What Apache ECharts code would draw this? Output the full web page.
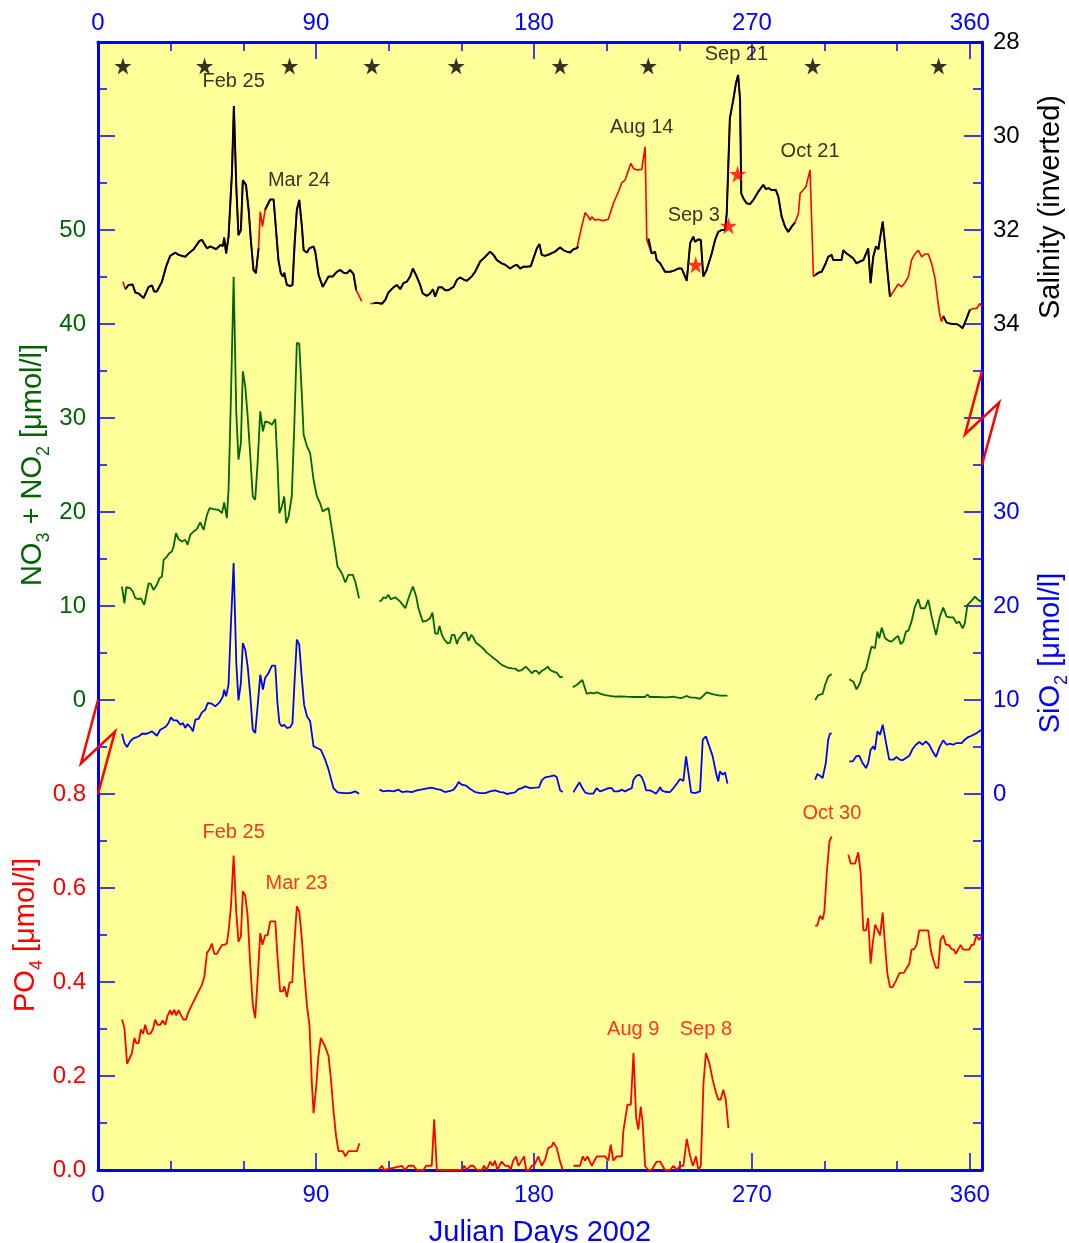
<!DOCTYPE html>
<html><head><meta charset="utf-8">
<script src="https://cdn.jsdelivr.net/npm/echarts@6/dist/echarts.min.js"></script>
<style>html,body{margin:0;padding:0;background:#fff}#c{width:1069px;height:1243px}</style>
</head><body><div id="c"></div>
<script>
// ---------------- DATA ----------------
const dayTicks = [0, 90, 180, 270, 360];
const dayMinorTicks = [30, 60, 120, 150, 210, 240, 300, 330];
const no3Labels = [0, 10, 20, 30, 40, 50];
const po4Labels = [0, 0.2, 0.4, 0.6, 0.8];
const sio2Labels = [0, 10, 20, 30];
const salLabels = [28, 30, 32, 34];

// Salinity (inverted axis), [julian day, salinity]
const salinity = [
[10.3,33.10],[11.3,33.26],[12.6,33.17],[14.3,33.16],[15.4,33.33],[16.8,33.35],[18.8,33.45],[20.9,33.21],[22.3,33.18],[23.2,33.31],[24.3,33.31],[26.4,33.10],[28.1,32.78],[29.8,32.55],[31.9,32.48],[33.3,32.53],[36.0,32.57],[37.4,32.50],[39.5,32.41],[41.9,32.23],[42.9,32.21],[45.0,32.39],[46.4,32.35],[48.8,32.41],[50.5,32.32],[51.6,32.34],[52.1,32.16],[52.9,32.50],[53.9,32.14],[55.3,30.79],[56.1,29.36],[57.1,31.08],[58.0,32.11],[59.0,32.0],[59.8,30.94],[61.1,31.04],[62.2,31.57],[63.1,32.21],[64.2,32.85],[65.2,32.92],[66.3,32.39],[67.0,31.61],[67.9,31.93],[69.0,31.57],[71.1,31.35],[72.5,31.35],[73.2,31.36],[74.5,32.64],[75.5,32.92],[76.3,32.99],[76.9,32.91],[78.0,33.17],[79.4,33.19],[80.3,33.17],[81.2,32.28],[82.1,31.57],[83.1,31.36],[84.2,31.93],[84.9,32.43],[86.3,32.48],[87.3,32.39],[89.0,32.35],[89.7,32.46],[91.1,32.96],[92.8,33.21],[95.2,32.99],[96.9,32.99],[98.6,32.89],[100.0,32.85],[101.4,32.91],[102.8,32.92],[104.1,32.85],[105.5,32.94],[106.6,33.28],[108.9,33.52],[110.5,null],[112.4,33.57],[113.8,33.56],[115.1,33.55],[117.2,33.57],[118.6,33.49],[119.9,33.33],[122.0,33.22],[123.4,33.17],[124.8,33.26],[126.1,33.13],[127.5,33.10],[128.9,32.99],[130.0,32.82],[131.6,32.99],[133.0,33.17],[134.1,33.35],[135.8,33.40],[137.1,33.35],[138.3,33.26],[139.2,33.42],[140.6,33.22],[142.0,33.22],[143.3,33.28],[144.7,33.28],[146.8,33.21],[148.2,33.06],[149.5,33.01],[151.2,33.06],[152.3,33.08],[154.3,32.99],[155.7,32.89],[157.8,32.67],[159.9,32.57],[161.9,32.46],[163.3,32.53],[164.7,32.64],[166.7,32.71],[168.1,32.74],[170.2,32.82],[171.5,32.77],[172.9,32.74],[174.3,32.82],[175.7,32.78],[177.0,32.78],[178.7,32.77],[179.8,32.60],[181.2,32.39],[182.3,32.30],[183.2,32.53],[184.6,32.55],[186.7,32.51],[188.7,32.46],[190.8,32.37],[192.2,32.43],[193.5,32.46],[194.9,32.48],[196.3,32.41],[197.7,32.39],[198.4,32.35],[199.7,31.93],[201.1,31.63],[202.5,31.72],[203.2,31.79],[203.9,31.72],[205.2,31.79],[206.6,31.77],[208.0,31.80],[209.3,31.79],[210.7,31.77],[212.8,31.43],[214.9,31.18],[216.3,30.99],[217.6,30.94],[218.6,30.79],[220.0,30.58],[221.1,30.69],[222.4,30.72],[224.5,30.71],[225.9,30.23],[226.6,32.21],[227.3,32.18],[228.6,32.50],[230.0,32.46],[230.7,32.64],[232.1,32.71],[234.1,32.89],[236.2,32.89],[237.6,32.87],[239.6,32.82],[241.0,32.82],[242.4,32.99],[243.1,33.08],[244.5,32.28],[245.8,32.14],[246.5,32.25],[247.9,32.20],[248.9,32.21],[249.9,32.99],[251.3,32.85],[253.4,32.50],[254.8,32.21],[256.1,32.04],[257.5,32.0],[258.9,32.0],[259.6,31.65],[260.9,29.62],[262.3,29.23],[263.4,28.88],[264.3,28.70],[265.1,29.23],[265.6,31.22],[266.5,31.33],[267.8,31.43],[269.2,31.45],[270.6,31.36],[272.7,31.18],[274.7,31.04],[275.8,31.13],[276.8,31.11],[278.2,31.15],[279.9,31.15],[280.9,31.29],[282.3,31.72],[283.7,31.93],[285.0,32.04],[286.4,31.93],[287.8,31.84],[289.2,31.65],[289.9,31.22],[291.2,31.15],[292.3,31.08],[294.0,30.72],[295.4,32.99],[296.1,32.96],[297.4,32.91],[298.8,32.89],[300.2,32.74],[301.5,32.57],[302.9,32.53],[303.6,32.64],[305.0,32.64],[307.0,32.64],[307.7,32.43],[309.1,32.50],[310.5,32.55],[311.8,32.60],[313.2,32.71],[314.6,32.67],[316.0,32.64],[317.3,32.48],[318.0,32.39],[319.0,33.13],[320.1,32.57],[321.2,32.35],[322.2,32.41],[322.9,32.43],[324.0,31.82],[324.9,32.28],[325.9,32.85],[327.0,33.42],[328.4,33.31],[330.4,33.15],[331.8,33.21],[333.2,33.12],[334.6,32.99],[335.9,32.64],[337.3,32.51],[338.7,32.43],[340.1,32.57],[341.5,32.51],[342.8,32.51],[344.2,32.71],[345.6,33.03],[346.9,33.56],[347.6,33.81],[348.3,33.95],[349.0,33.83],[350.4,33.97],[352.5,34.0],[354.5,34.0],[355.9,34.04],[357.0,34.09],[358.4,33.91],[360.0,33.70],[361.4,33.67],[362.8,33.67],[364.1,33.56],[364.8,33.62]
];
// day ranges where only the red salinity record exists (black record absent)
const salBlackGaps = [[0,11],[66.3,69.0],[106.6,113.8],[198.4,227.3],[287.8,296.1],[327.0,349.0],[360.0,366]];
const salStarsBlack = [[10.3,28.51],[44,28.51],[79.1,28.51],[113.1,28.51],[147.9,28.51],[190.8,28.51],[227.2,28.51],[295.1,28.51],[347.1,28.51]];
const salStarsRed = [[246.8,32.74],[260.3,31.91],[264.1,30.81]];
const salNotes = [['Feb 25',56,28.85],['Mar 24',83,30.94],['Aug 14',224.5,29.81],['Sep 3',246,31.70],['Sep 21',263.6,28.26],['Oct 21',294,30.32]];

// NO3 + NO2 [umol/l]
const no3 = [
[9.9,12.07],[10.9,10.29],[11.7,12.0],[13.3,11.89],[14.4,11.54],[15.4,10.83],[16.8,10.72],[17.7,10.83],[19.1,10.12],[20.9,12.42],[21.8,12.35],[22.9,11.71],[24.3,12.25],[25.4,12.96],[26.4,13.13],[27.1,14.91],[28.5,15.26],[29.4,15.62],[30.5,15.80],[31.2,16.33],[32.2,17.75],[33.3,17.11],[34.7,16.86],[36.0,17.04],[37.0,16.51],[38.1,17.57],[39.5,17.93],[40.8,18.18],[42.2,18.89],[43.6,18.10],[45.0,19.70],[46.1,20.41],[47.7,20.31],[49.8,20.23],[51.2,19.88],[52.1,21.02],[53.2,19.35],[53.9,22.36],[54.9,32.30],[56.0,45.0],[57.1,30.53],[58.0,25.56],[59.0,27.33],[59.8,34.97],[60.8,33.37],[61.8,30.17],[62.9,25.91],[63.9,21.65],[64.9,21.30],[65.9,25.20],[67.0,30.71],[68.1,28.58],[69.0,29.64],[70.4,29.54],[71.8,29.29],[72.5,29.29],[73.2,29.89],[74.1,25.20],[74.9,19.88],[75.9,20.59],[76.9,21.65],[77.7,18.81],[78.7,19.52],[80.0,21.65],[81.0,28.75],[82.1,37.98],[83.1,37.91],[84.2,32.30],[84.9,28.22],[86.3,26.98],[87.6,26.27],[89.0,23.43],[90.4,21.65],[91.7,20.94],[92.8,20.06],[93.8,20.23],[95.2,20.41],[96.6,18.10],[97.9,15.97],[98.9,14.20],[99.7,14.38],[100.7,13.49],[102.1,12.50],[103.4,13.31],[105.2,13.31],[106.2,12.60],[107.8,10.83],
[112,null],
[116.2,10.47],[117.2,10.65],[117.9,10.93],[118.8,10.83],[119.9,11.18],[120.9,10.72],[122.7,10.93],[124.8,10.47],[126.9,9.76],[128.2,10.83],[130.0,12.07],[131.4,11.0],[132.3,9.76],[134.1,8.34],[135.8,8.45],[137.1,8.70],[138.1,9.30],[139.2,7.10],[140.2,7.03],[141.0,7.88],[142.0,6.92],[142.9,6.46],[144.3,6.03],[145.4,6.11],[146.1,6.92],[147.2,6.92],[148.2,5.96],[148.9,6.46],[149.5,6.57],[150.9,7.17],[152.0,7.17],[153.0,6.28],[154.1,6.92],[155.0,6.67],[156.0,6.11],[157.8,5.75],[159.2,5.43],[160.5,5.04],[162.6,4.61],[164.7,4.19],[166.7,3.73],[168.8,3.48],[170.9,3.37],[172.2,3.34],[173.6,3.09],[175.0,3.19],[176.6,3.55],[178.0,3.19],[179.1,2.84],[180.1,3.09],[181.2,3.09],[182.1,2.77],[183.2,3.09],[184.6,3.30],[185.7,3.55],[186.7,3.19],[188.0,3.02],[189.4,2.91],[190.8,2.41],[191.9,2.48],
[194,null],
[196.0,1.35],[197.7,1.60],[200.0,2.13],[201.8,0.64],[203.2,0.78],[204.5,0.71],[205.9,0.82],[207.3,0.67],[209.3,0.53],[211.4,0.43],[213.5,0.35],[215.6,0.39],[218.3,0.35],[221.1,0.32],[225.9,0.32],[226.8,0.57],[227.9,0.32],[230.7,0.32],[234.8,0.28],[237.6,0.35],[238.9,0.28],[239.6,0.43],[241.0,0.21],[243.1,0.43],[244.5,0.28],[246.5,0.25],[248.6,0.11],[251.3,0.82],[254.1,0.60],[256.8,0.46],[259.9,0.46],
[278,null],
[296.1,0.0],[297.4,0.53],[298.1,0.36],[299.2,0.64],[300.2,1.60],[301.5,2.48],[302.9,2.77],
[306,null],
[310.2,2.20],[311.9,1.95],[313.2,1.14],[314.6,1.78],[315.7,2.84],[317.1,3.27],[318.5,4.79],[319.4,5.68],[320.8,5.50],[321.8,7.28],[322.6,6.57],[323.6,7.70],[325.0,6.57],[326.3,6.32],[327.7,6.21],[329.1,6.57],[330.4,6.82],[331.4,5.96],[332.5,6.21],[333.6,7.28],[334.6,7.38],[335.9,8.34],[337.3,9.94],[338.7,10.72],[339.7,9.76],[341.5,9.76],[342.8,10.65],[344.2,8.87],[346.0,6.92],[347.6,8.87],[349.0,9.83],[350.4,8.87],[351.8,8.80],[353.1,8.80],[354.5,8.16],[355.6,8.34],[357.0,7.63],[357.9,8.16],[359.0,10.12],[360.7,10.58],[362.1,11.0],[363.4,10.65],[364.8,10.47]
];

// SiO2 [umol/l]
const sio2 = [
[9.9,6.41],[10.9,5.42],[12.0,5.0],[13.3,5.60],[14.7,5.95],[16.1,6.06],[17.2,6.20],[18.1,6.41],[20.2,6.41],[22.3,6.66],[24.3,6.20],[25.7,6.84],[27.8,7.12],[29.1,7.55],[30.1,8.15],[31.2,7.83],[32.6,7.83],[34.0,7.37],[35.1,7.55],[36.0,7.02],[37.0,7.44],[38.4,7.02],[39.2,6.66],[40.2,7.90],[41.5,7.98],[42.9,8.68],[44.3,8.97],[45.3,9.68],[47.0,9.61],[48.4,9.32],[50.2,9.75],[51.6,10.39],[52.1,11.10],[52.9,10.39],[53.9,11.63],[54.9,18.19],[56.0,24.57],[57.1,13.93],[58.0,9.96],[59.0,11.80],[59.8,16.06],[60.8,15.35],[61.8,13.58],[62.9,10.39],[63.9,6.84],[64.9,6.48],[65.9,9.32],[67.0,12.69],[68.1,11.10],[69.0,12.34],[70.4,12.87],[71.8,13.65],[73.2,13.65],[74.1,9.68],[74.9,7.55],[75.9,7.20],[76.9,7.37],[78.0,7.02],[79.4,7.12],[80.3,7.55],[81.2,12.16],[82.1,16.42],[83.1,15.88],[84.2,12.16],[85.1,9.50],[86.3,8.26],[87.6,7.73],[89.0,5.07],[90.4,4.89],[92.0,4.71],[93.8,3.65],[95.2,2.59],[97.2,0.63],[98.9,0.17],[101.4,0.10],[102.1,0.03],[104.1,0.10],[106.2,0.28],[107.8,0.03],
[112,null],
[116.2,0.46],[117.9,0.28],[119.9,0.35],[122.0,0.28],[124.1,0.46],[125.5,0.21],[127.5,0.28],[129.6,0.21],[131.6,0.39],[134.4,0.53],[136.5,0.63],[137.8,0.67],[139.9,0.53],[141.3,0.46],[143.3,0.21],[145.4,0.32],[146.8,0.46],[147.9,0.81],[148.9,1.27],[150.2,0.99],[152.0,0.88],[153.7,0.53],[155.7,0.21],[157.8,0.10],[159.9,0.10],[161.9,0.28],[163.9,0.39],[164.7,0.46],[166.1,0.21],[167.4,0.17],[168.8,0.0],[170.5,0.10],[172.2,0.17],[173.6,0.53],[175.0,0.63],[176.4,0.81],[178.4,0.63],[180.5,0.67],[182.1,0.71],[183.2,1.45],[184.6,1.77],[186.7,1.88],[188.3,1.98],[189.4,1.80],[190.8,0.39],[191.9,0.21],
[194,null],
[196.3,0.17],[197.7,0.81],[198.8,1.24],[200.0,0.63],[201.1,0.17],[202.5,0.03],[204.5,0.03],[205.9,0.63],[207.3,0.28],[208.0,0.17],[209.3,0.46],[210.7,0.63],[212.1,0.63],[213.1,0.28],[214.9,0.28],[216.3,0.46],[217.6,0.28],[219.0,0.46],[220.4,0.63],[221.1,1.52],[222.4,1.95],[223.5,2.05],[224.5,1.80],[225.5,1.17],[226.3,0.39],[227.9,0.39],[229.3,0.21],[230.4,0.03],[231.4,0.39],[232.1,0.74],[232.8,0.39],[234.1,0.24],[236.2,0.21],[237.6,0.63],[239.2,1.17],[240.3,1.59],[241.7,1.40],[242.8,4.0],[243.8,2.23],[244.9,0.17],[246.5,0.10],[248.6,0.28],[249.7,5.78],[251.0,6.13],[252.4,5.07],[253.8,4.00],[255.2,2.23],[256.1,1.34],[256.8,2.41],[257.9,2.06],[258.9,2.30],[259.9,1.10],
[278,null],
[296.1,1.52],[297.0,2.13],[298.1,1.95],[299.2,1.70],[300.5,3.29],[301.5,5.78],[302.2,6.41],[302.9,6.48],
[306,null],
[310.2,3.47],[311.6,3.47],[313.0,4.0],[314.3,4.07],[315.7,3.29],[317.1,2.76],[318.0,3.29],[319.0,4.71],[320.1,5.07],[320.8,4.71],[321.8,6.66],[322.9,6.31],[324.0,7.37],[324.9,6.13],[325.9,4.71],[326.7,3.65],[328.4,3.65],[329.7,3.93],[331.1,3.65],[332.2,3.58],[333.6,3.83],[335.0,4.07],[336.3,4.78],[337.7,5.24],[339.1,5.53],[340.5,5.24],[341.8,5.60],[343.2,5.24],[344.6,4.54],[346.0,3.93],[347.6,5.07],[349.0,5.71],[350.4,5.24],[351.8,5.35],[353.1,5.24],[354.5,5.42],[356.6,5.42],[357.9,5.78],[359.3,6.06],[360.7,6.20],[362.8,6.48],[364.8,6.84]
];

// PO4 [umol/l]
const po4 = [
[9.9,0.320],[10.9,0.302],[12.0,0.226],[13.1,0.238],[14.0,0.249],[15.0,0.281],[15.8,0.270],[16.8,0.270],[17.7,0.299],[18.6,0.290],[19.5,0.309],[20.5,0.290],[21.6,0.290],[22.7,0.300],[23.6,0.320],[24.6,0.309],[25.7,0.309],[26.7,0.318],[27.8,0.309],[28.7,0.328],[29.8,0.340],[30.5,0.330],[31.5,0.341],[32.3,0.329],[33.3,0.340],[34.2,0.330],[35.3,0.320],[36.3,0.320],[37.4,0.337],[38.8,0.352],[40.2,0.366],[41.5,0.380],[42.9,0.394],[43.9,0.411],[45.0,0.462],[46.1,0.470],[47.0,0.482],[48.0,0.460],[49.1,0.460],[50.2,0.470],[51.2,0.479],[52.1,0.479],[53.2,0.482],[53.9,0.508],[54.9,0.561],[56.0,0.669],[57.1,0.547],[58.0,0.486],[59.0,0.497],[59.8,0.593],[60.8,0.584],[61.8,0.540],[62.9,0.433],[63.9,0.352],[64.9,0.323],[65.9,0.405],[67.0,0.504],[67.9,0.479],[69.0,0.499],[70.0,0.499],[71.1,0.529],[72.2,0.529],[73.2,0.529],[74.1,0.455],[75.2,0.380],[76.3,0.380],[76.9,0.391],[78.0,0.368],[79.1,0.399],[80.2,0.399],[81.0,0.476],[82.1,0.561],[83.1,0.550],[84.2,0.490],[85.1,0.423],[86.3,0.348],[87.3,0.309],[88.3,0.185],[89.0,0.121],[90.1,0.178],[91.0,0.242],[92.0,0.281],[93.1,0.270],[94.2,0.257],[95.2,0.242],[96.2,0.192],[97.2,0.128],[98.3,0.072],[99.3,0.040],[101.1,0.040],[102.1,0.029],[103.4,0.040],[105.2,0.040],[106.9,0.040],[107.9,0.057],
[112,null],
[115.8,0.0],[117.2,0.009],[118.2,0.0],[125.5,0.009],[126.8,0.0],[128.2,0.009],[130.3,0.009],[131.6,0.0],[134.4,0.0],[135.5,0.009],[137.8,0.009],[138.8,0.108],[139.9,0.0],[150.2,0.0],[151.2,0.009],[152.3,0.0],[153.7,0.009],[155.0,0.009],[156.4,0.0],[158.5,0.0],[159.4,0.009],[160.5,0.0],[161.9,0.018],[163.0,0.009],[163.9,0.020],[164.9,0.0],[165.7,0.009],[166.7,0.018],[168.1,0.009],[169.5,0.009],[170.4,0.0],[171.3,0.018],[172.6,0.029],[173.6,0.009],[174.9,0.020],[175.9,0.029],[176.8,0.0],[178.1,0.0],[179.1,0.009],[180.2,0.011],[181.8,0.029],[183.2,0.009],[184.6,0.022],[185.9,0.047],[187.3,0.050],[188.0,0.059],[189.4,0.047],[190.8,0.018],[191.9,0.0],
[194,null],
[196.3,0.009],[199.0,0.009],[200.2,0.029],[201.1,0.020],[202.1,0.029],[203.9,0.009],[205.9,0.029],[209.4,0.029],[210.7,0.020],[211.7,0.054],[212.8,0.020],[214.2,0.029],[216.3,0.029],[216.9,0.082],[218.6,0.139],[220.0,0.139],[221.1,0.249],[222.2,0.111],[223.1,0.086],[224.1,0.135],[224.9,0.100],[225.9,0.008],[227.3,0.0],[228.6,0.0],[230.7,0.018],[232.1,0.018],[234.1,0.0],[236.2,0.0],[237.6,0.009],[239.0,0.0],[240.3,0.009],[241.7,0.009],[243.1,0.066],[244.5,0.029],[245.6,0.009],[246.9,0.029],[247.9,0.0],[248.9,0.009],[250.0,0.185],[251.0,0.249],[252.4,0.228],[253.8,0.192],[255.2,0.164],[256.1,0.150],[257.1,0.150],[258.2,0.171],[259.2,0.150],[260.3,0.089],
[278,null],
[296.1,0.520],[297.0,0.520],[298.1,0.541],[299.2,0.533],[299.9,0.550],[300.9,0.632],[302.0,0.699],[302.9,0.710],
[306,null],
[309.8,0.671],[310.8,0.652],[312.6,0.652],[313.9,0.676],[314.9,0.632],[316.0,0.510],[317.1,0.510],[318.0,0.536],[319.0,0.439],[319.8,0.479],[320.9,0.522],[321.9,0.511],[322.9,0.499],[324.0,0.548],[324.9,0.483],[325.9,0.419],[327.0,0.389],[328.1,0.389],[329.5,0.403],[330.9,0.419],[332.8,0.420],[333.9,0.430],[335.0,0.439],[335.9,0.469],[337.0,0.470],[338.0,0.479],[339.1,0.510],[342.8,0.510],[343.8,0.469],[344.9,0.447],[346.0,0.430],[346.9,0.430],[347.9,0.490],[349.0,0.499],[350.1,0.479],[351.2,0.479],[352.4,0.470],[353.4,0.469],[354.2,0.460],[355.2,0.470],[356.2,0.479],[357.2,0.469],[359.7,0.469],[360.7,0.479],[361.6,0.479],[362.7,0.499],[363.8,0.490],[364.8,0.497]
];
const po4Notes = [['Feb 25',56,0.718],['Mar 23',82,0.609],['Aug 9',221,0.298],['Sep 8',251,0.298],['Oct 30',303,0.758]];

// ---------------- CHART ----------------
const FONT = '"Liberation Sans", Arial, Helvetica, sans-serif';
const BLUE = '#0000ff', GREEN = '#006400', RED = '#ff0000', BLACK = '#000000';
const STAR = 'path://M50,0 L61.2,34.5 L97.6,34.5 L68.2,55.9 L79.4,90.5 L50,69.1 L20.6,90.5 L31.8,55.9 L2.4,34.5 L38.8,34.5 Z';

const inGap = d => salBlackGaps.some(g => d > g[0] && d < g[1]);
const salBlack = salinity.map(p => [p[0], (p[1] === null || inGap(p[0])) ? null : p[1]]);
const isIn = (arr, v) => arr.some(a => Math.abs(a - v) < 1e-9);

function xAx(pos, major) {
  const o = {
    type: 'value', position: pos, min: 0, max: 365, interval: 90,
    splitLine: { show: false },
    axisLine: { show: major, onZero: false, lineStyle: { color: BLUE, width: 3 } },
    axisTick: { show: true, inside: true, length: major ? 17 : 9,
      customValues: major ? dayTicks : dayMinorTicks, lineStyle: { color: BLUE, width: 1.5 } },
    axisLabel: { show: major, customValues: dayTicks, margin: pos === 'top' ? 7 : 13,
      color: BLUE, fontSize: 24, fontFamily: FONT,
      formatter: v => isIn(dayTicks, v) ? String(v) : '' }
  };
  if (major && pos === 'bottom') {
    o.name = 'Julian Days 2002'; o.nameLocation = 'middle'; o.nameGap = 48;
    o.nameTextStyle = { color: BLUE, fontSize: 29, fontFamily: FONT };
  }
  return o;
}

const chart = echarts.init(document.getElementById('c'));
chart.setOption({
  animation: false,
  backgroundColor: '#ffffff',
  grid: { left: 98, top: 42, width: 884, height: 1128, show: true, backgroundColor: '#ffff99',
    borderWidth: 0, containLabel: false, outerBoundsMode: 'none' },
  xAxis: [xAx('bottom', true), xAx('bottom', false), xAx('top', true), xAx('top', false)],
  yAxis: [
    { type: 'value', position: 'left', min: -50, max: 70, interval: 10,
      splitLine: { show: false },
      axisLine: { show: true, onZero: false, lineStyle: { color: BLUE, width: 3 } },
      axisTick: { show: true, inside: true, length: 17, lineStyle: { color: BLUE, width: 1.5 } },
      minorTick: { show: true, splitNumber: 2, length: 9, lineStyle: { color: BLUE, width: 1.5 } },
      axisLabel: { margin: 12, color: GREEN, fontSize: 24, fontFamily: FONT,
        formatter: v => isIn(no3Labels, v) ? String(v) : '' } },
    { type: 'value', position: 'left', min: 0, max: 2.4, interval: 0.2,
      splitLine: { show: false }, axisLine: { show: false }, axisTick: { show: false },
      axisLabel: { margin: 12, color: RED, fontSize: 24, fontFamily: FONT,
        formatter: v => isIn(po4Labels, v) ? v.toFixed(1) : '' } },
    { type: 'value', position: 'right', min: -40, max: 80, interval: 10,
      splitLine: { show: false },
      axisLine: { show: true, onZero: false, lineStyle: { color: BLUE, width: 3 } },
      axisTick: { show: true, inside: true, length: 18, lineStyle: { color: BLUE, width: 1.5 } },
      minorTick: { show: true, splitNumber: 2, length: 9, lineStyle: { color: BLUE, width: 1.5 } },
      axisLabel: { margin: 11, color: BLUE, fontSize: 24, fontFamily: FONT,
        formatter: v => isIn(sio2Labels, v) ? String(v) : '' } },
    { type: 'value', position: 'right', inverse: true, min: 28, max: 52, interval: 2,
      splitLine: { show: false }, axisLine: { show: false }, axisTick: { show: false },
      axisLabel: { margin: 11, color: BLACK, fontSize: 24, fontFamily: FONT,
        formatter: v => isIn(salLabels, v) ? String(v) : '' } }
  ],
  series: [
    { type: 'line', name: 'salinity-red', xAxisIndex: 0, yAxisIndex: 3, data: salinity,
      showSymbol: false, symbol: 'none', connectNulls: false, z: 3,
      lineStyle: { color: RED, width: 1.6 } },
    { type: 'line', name: 'salinity-black', xAxisIndex: 0, yAxisIndex: 3, data: salBlack,
      showSymbol: false, symbol: 'none', connectNulls: false, z: 4,
      lineStyle: { color: BLACK, width: 2 } },
    { type: 'line', name: 'NO3+NO2', xAxisIndex: 0, yAxisIndex: 0, data: no3,
      showSymbol: false, symbol: 'none', connectNulls: false, z: 3,
      lineStyle: { color: GREEN, width: 1.8 } },
    { type: 'line', name: 'SiO2', xAxisIndex: 0, yAxisIndex: 2, data: sio2,
      showSymbol: false, symbol: 'none', connectNulls: false, z: 3,
      lineStyle: { color: BLUE, width: 1.8 } },
    { type: 'line', name: 'PO4', xAxisIndex: 0, yAxisIndex: 1, data: po4,
      showSymbol: false, symbol: 'none', connectNulls: false, z: 3,
      lineStyle: { color: RED, width: 1.8 } },
    { type: 'scatter', xAxisIndex: 0, yAxisIndex: 3, data: salStarsBlack, symbol: STAR,
      symbolSize: 17, itemStyle: { color: BLACK }, z: 5 },
    { type: 'scatter', xAxisIndex: 0, yAxisIndex: 3, data: salStarsRed, symbol: STAR,
      symbolSize: 17, itemStyle: { color: RED }, z: 6 },
    { type: 'scatter', xAxisIndex: 0, yAxisIndex: 3, symbolSize: 1, z: 7,
      itemStyle: { color: 'rgba(0,0,0,0)' },
      data: salNotes.map(n => ({ name: n[0], value: [n[1], n[2]] })),
      label: { show: true, position: 'inside', formatter: '{b}', color: BLACK, fontSize: 20, fontFamily: FONT } },
    { type: 'scatter', xAxisIndex: 0, yAxisIndex: 1, symbolSize: 1, z: 7,
      itemStyle: { color: 'rgba(0,0,0,0)' },
      data: po4Notes.map(n => ({ name: n[0], value: [n[1], n[2]] })),
      label: { show: true, position: 'inside', formatter: '{b}', color: RED, fontSize: 20, fontFamily: FONT } }
  ]
});

// axis break marks and rotated axis titles
function zig(p, q) {
  const h = q[1] - p[1];
  return [[p[0], p[1]], [p[0] - 17, p[1] + 0.673 * h], [p[0] + 17, p[1] + 0.337 * h], [q[0], q[1]]];
}
const lp = chart.convertToPixel({ xAxisIndex: 0, yAxisIndex: 0 }, [0, 0]);
const lq = chart.convertToPixel({ xAxisIndex: 0, yAxisIndex: 0 }, [0, -10]);
const rp = chart.convertToPixel({ xAxisIndex: 0, yAxisIndex: 2 }, [365, 45]);
const rq = chart.convertToPixel({ xAxisIndex: 0, yAxisIndex: 2 }, [365, 35]);

function vTitle(x, y, text, color, rich) {
  const style = { text: text, fill: color, fontSize: 29, fontFamily: FONT, align: 'center', verticalAlign: 'middle' };
  if (rich) {
    style.rich = {
      n: { fontSize: 29, fontFamily: FONT, fill: color, lineHeight: 32 },
      s: { fontSize: 18, fontFamily: FONT, fill: color, lineHeight: 18, padding: [22, 0, 0, 0] }
    };
  }
  return { type: 'text', x: x, y: y, rotation: Math.PI / 2, z: 100, style: style };
}

chart.setOption({
  graphic: [
    { type: 'polyline', shape: { points: zig(lp, lq) }, style: { stroke: RED, lineWidth: 2.5, fill: null }, z: 100 },
    { type: 'polyline', shape: { points: zig(rp, rq) }, style: { stroke: RED, lineWidth: 2.5, fill: null }, z: 100 },
    vTitle(33, 465, '{n|NO}{s|3}{n| + NO}{s|2}{n| [μmol/l]}', GREEN, true),
    vTitle(26, 935, '{n|PO}{s|4}{n| [μmol/l]}', RED, true),
    vTitle(1051, 653, '{n|SiO}{s|2}{n| [μmol/l]}', BLUE, true),
    vTitle(1051, 207, 'Salinity (inverted)', BLACK, false)
  ]
});
</script>
</body></html>
